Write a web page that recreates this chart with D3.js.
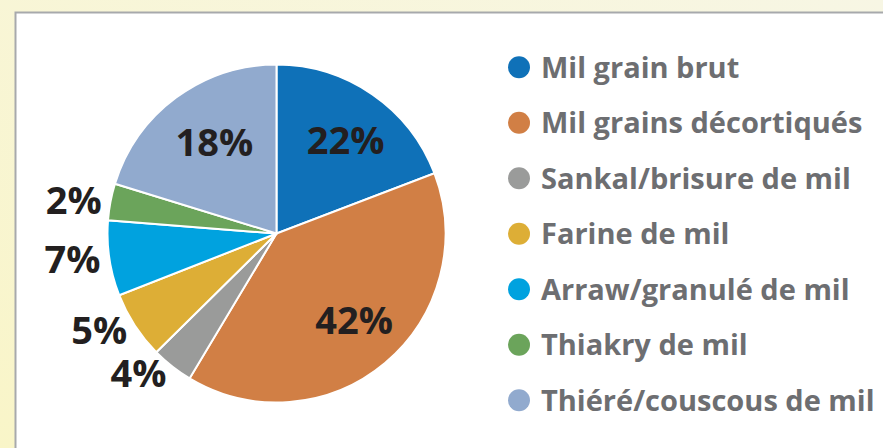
<!DOCTYPE html>
<html>
<head>
<meta charset="utf-8">
<script src="https://cdn.jsdelivr.net/npm/d3@7"></script>
<style>
  body { margin: 0; background: #f8f6d8; }
</style>
</head>
<body>
<div id="container"></div>
<script>
let w = 883;
let h = 448;

let categories = ["Mil grain brut", "Mil grains décortiqués", "Sankal/brisure de mil",
  "Farine de mil", "Arraw/granulé de mil", "Thiakry de mil", "Thiéré/couscous de mil"];
let shares = [19.2, 39.4, 4.0, 6.45, 7.2, 3.5, 20.25];
let pctLabels = ["22%", "42%", "4%", "5%", "7%", "2%", "18%"];
let colors = ["#0f71b8", "#d17f45", "#9a9b9a", "#ddae36", "#00a2df", "#6ba45b", "#91aace"];
let outside = [false, false, true, true, true, true, false];

let viz = d3.select("#container").append("svg")
    .attr("width", w)
    .attr("height", h)
;

// background gradient + panel
let defs = viz.append("defs");
let grad = defs.append("linearGradient").attr("id", "bg")
    .attr("x1", 0).attr("y1", 1).attr("x2", 1).attr("y2", 0);
grad.append("stop").attr("offset", 0).attr("stop-color", "#f9f5c8");
grad.append("stop").attr("offset", 1).attr("stop-color", "#f7f6e4");
viz.append("rect").attr("width", w).attr("height", h).attr("fill", "url(#bg)");

viz.append("rect")
    .attr("x", 15.5).attr("y", 12.5)
    .attr("width", w + 20).attr("height", h + 20)
    .attr("fill", "white")
    .attr("stroke", "#a7a9ac")
    .attr("stroke-width", 2)
;

// PIE
let cx = 276.5, cy = 233.5, r = 169;
let pie = d3.pie().sort(null).value(function(d){ return d; });
let arcs = pie(shares);
let arcMaker = d3.arc().innerRadius(0).outerRadius(r);

let g = viz.append("g").attr("transform", "translate(" + cx + "," + cy + ")");

g.selectAll(".slice").data(arcs).enter()
  .append("path")
    .attr("class", "slice")
    .attr("d", arcMaker)
    .attr("fill", function(d, i){ return colors[i]; })
    .attr("stroke", "white")
    .attr("stroke-width", 2)
;

// labels: inside ones centred, outside ones right-aligned beyond the rim
let innerArc = d3.arc().innerRadius(113).outerRadius(113);
let outerArc = d3.arc().innerRadius(178).outerRadius(178);

g.selectAll(".pct").data(arcs).enter()
  .append("text")
    .attr("class", "pct")
    .attr("transform", function(d, i){
      let c = outside[i] ? outerArc.centroid(d) : innerArc.centroid(d);
      if (!outside[i]) c[0] += 5;
      return "translate(" + c + ")";
    })
    .attr("dy", "0.36em")
    .attr("text-anchor", function(d, i){ return outside[i] ? "end" : "middle"; })
    .style("font-family", "'Open Sans', sans-serif")
    .style("font-weight", "bold")
    .style("font-size", "38px")
    .attr("fill", "#231f20")
    .text(function(d, i){ return pctLabels[i]; })
;

// LEGEND
let yScale = d3.scaleBand().domain(categories).range([39.5, 428]);

let legend = viz.selectAll(".legend").data(categories).enter()
  .append("g")
    .attr("class", "legend")
    .attr("transform", function(d){
      return "translate(519," + (yScale(d) + yScale.bandwidth() / 2) + ")";
    })
;
legend.append("circle")
    .attr("r", 11)
    .attr("fill", function(d, i){ return colors[i]; })
;
legend.append("text")
    .attr("x", 22)
    .attr("dy", "0.36em")
    .style("font-family", "'Open Sans', sans-serif")
    .style("font-weight", "bold")
    .style("font-size", "29px")
    .attr("fill", "#6d6e71")
    .text(function(d){ return d; })
;
</script>
</body>
</html>
